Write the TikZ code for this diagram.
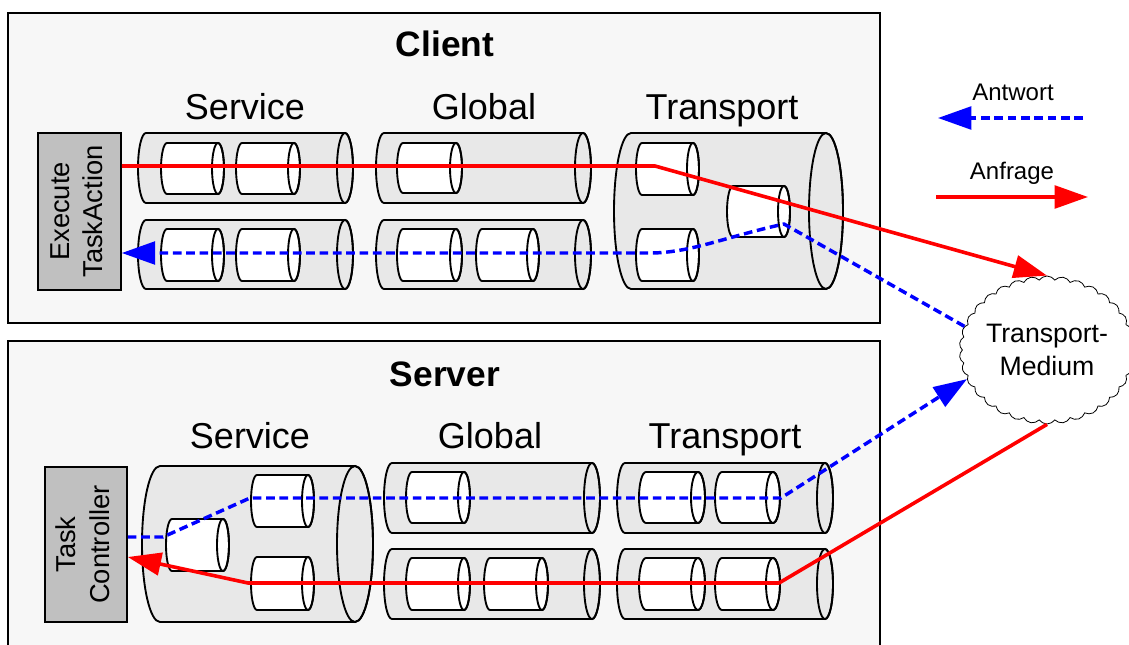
\documentclass[tikz,border=0pt]{standalone}
\usepackage{fontspec}
\setmainfont{Liberation Sans}
\usepackage{graphicx}
\usetikzlibrary{arrows.meta,shapes.symbols}

\definecolor{panelbg}{HTML}{F7F7F7}
\definecolor{tubebg}{HTML}{E8E8E8}
\definecolor{boxgray}{HTML}{C0C0C0}
\definecolor{reqred}{HTML}{FF0000}
\definecolor{ansblue}{HTML}{0000FF}

\tikzset{
  panel/.style={draw=black, line width=1.6pt, fill=panelbg, inner sep=0pt},
  actor/.style={draw=black, line width=1.2pt, fill=boxgray, inner sep=0pt,
    font=\fontsize{20.5}{25}\selectfont},
  layer/.style={font=\fontsize{27}{32}\selectfont, anchor=base, inner sep=0pt},
  title/.style={font=\bfseries\fontsize{26.5}{31}\selectfont, anchor=base, inner sep=0pt},
  tubeline/.style={line width=1.4pt, draw=black},
  request/.style={draw=reqred, line width=2.7pt, line join=round,
    -{Triangle[length=25pt,width=17pt]}},
  answer/.style={draw=ansblue, line width=2.6pt, line join=round,
    dash pattern=on 6.5pt off 3.5pt, -{Triangle[length=25pt,width=17pt]}},
  medium/.style={cloud, cloud puffs=34, cloud puff arc=110, cloud ignores aspect, draw=black,
    line width=0.6pt, fill=white, minimum width=120pt, minimum height=111pt,
    inner sep=0pt, align=center, font=\fontsize{20}{25}\selectfont},
  legend/.style={font=\fontsize{18}{22}\selectfont, anchor=base, inner sep=0pt},
}

% horizontal cylinder: fill, left x, centre x of right face, top y, bottom y, x radius
\newcommand\tube[6]{%
  \pgfmathsetmacro\tubery{(#5-#4)/2}%
  \pgfmathsetmacro\tubecy{-(#4+#5)/2}%
  \filldraw[tubeline, fill=#1] (#3,-#4) -- (#2+#6,-#4)
    arc[start angle=90, end angle=270, x radius=#6, y radius=\tubery]
    -- (#3,-#5)
    arc[start angle=-90, end angle=90, x radius=#6, y radius=\tubery] -- cycle;
  \draw[tubeline] (#3,\tubecy) ellipse[x radius=#6, y radius=\tubery];
}

\begin{document}
\begin{tikzpicture}[x=0.75pt, y=0.75pt]
\useasboundingbox (0,0) rectangle (1129,-645);

% panels
\node[panel, minimum width=654pt, minimum height=232.5pt] (client) at (444,-168) {};
\node[panel, minimum width=654pt, minimum height=240pt] (server) at (444,-501) {};
\node[title] (clientlabel) at (445,-57) {Client};
\node[title] (serverlabel) at (445,-387) {Server};

% layer captions
\node[layer] (csvc) at (245,-120) {Service};
\node[layer] (cglb) at (484,-120) {Global};
\node[layer] (ctrp) at (722,-120) {Transport};
\node[layer] (ssvc) at (250,-449) {Service};
\node[layer] (sglb) at (490,-449) {Global};
\node[layer] (strp) at (725,-449) {Transport};

% end points
\node[actor, minimum width=62.25pt, minimum height=117.75pt] (exec) at (79.5,-211.5)
  {\rotatebox{90}{\begin{tabular}{@{}c@{}}Execute\\TaskAction\end{tabular}}};
\node[actor, minimum width=61.5pt, minimum height=116.25pt] (taskctl) at (86,-544.5)
  {\rotatebox{90}{\begin{tabular}{@{}c@{}}Task\\Controller\end{tabular}}};

% client: Service
\tube{tubebg}{138}{345}{133}{203}{8}
\tube{white}{161}{218}{143}{194}{6}
\tube{white}{236}{294}{143}{194}{6}
\tube{tubebg}{138}{345}{220}{289}{8}
\tube{white}{161}{218}{229}{281}{6}
\tube{white}{236}{294}{229}{281}{6}
% client: Global
\tube{tubebg}{376}{583}{133}{203}{8}
\tube{white}{397}{456}{143}{193}{6}
\tube{tubebg}{376}{583}{220}{289}{8}
\tube{white}{397}{456}{229}{281}{6}
\tube{white}{476}{533}{229}{281}{6}
% client: Transport
\tube{tubebg}{614}{826}{133}{289}{17}
\tube{white}{636}{693}{143}{195}{6}
\tube{white}{636}{693}{229}{281}{6}
\tube{white}{727}{784}{186}{237}{6}

% server: Service
\tube{tubebg}{142}{355}{466}{622}{18}
\tube{white}{251}{308}{475}{527}{6}
\tube{white}{251}{308}{557}{610}{6}
\tube{white}{166}{223}{519}{571}{6}
% server: Global
\tube{tubebg}{384}{592}{463}{533}{8}
\tube{white}{406}{464}{472}{523}{6}
\tube{tubebg}{384}{592}{549}{619}{8}
\tube{white}{406}{464}{558}{610}{6}
\tube{white}{484}{542}{558}{610}{6}
% server: Transport
\tube{tubebg}{617}{825}{463}{533}{8}
\tube{white}{639}{698}{472}{523}{7}
\tube{white}{715}{773}{472}{523}{7}
\tube{tubebg}{617}{825}{549}{619}{8}
\tube{white}{639}{698}{558}{610}{7}
\tube{white}{715}{773}{558}{610}{7}

% transport medium
\node[medium] (cloud) at (1047,-350) {Transport-\\Medium};

% bend points
\coordinate (cr1) at (655,-166);
\coordinate (cb1) at (784,-224);
\coordinate (cb2) at (650,-253);
\coordinate (sb1) at (781,-498);
\coordinate (sb2) at (250,-498);
\coordinate (sb3) at (163,-537);
\coordinate (sr1) at (779,-583);
\coordinate (sr2) at (248,-583);
\coordinate (sr3) at (160,-557);

% client request and answer
\draw[request] (exec.east |- cr1) -- (cr1) -- (cloud.north);
\draw[answer] (cloud.164) -- (cb1) .. controls (725,-237) and (690,-253) .. (cb2)
  -- (exec.east |- cb2);

% server answer and request
\draw[answer] (taskctl.east |- sb3) -- (sb3) -- (sb2) -- (sb1) -- (cloud.200);
\draw[request] (cloud.south) -- (sr1) -- (sr2) -- (taskctl.east |- sr3);

% legend
\node[legend] (antlbl) at (1013,-101) {Antwort};
\node[legend] (anflbl) at (1012,-180) {Anfrage};
\coordinate (ant1) at (1083,-118);
\coordinate (ant2) at (938,-118);
\coordinate (anf1) at (936,-197);
\coordinate (anf2) at (1088,-197);
\draw[answer] (ant1) -- (ant2);
\draw[request] (anf1) -- (anf2);
\end{tikzpicture}
\end{document}
